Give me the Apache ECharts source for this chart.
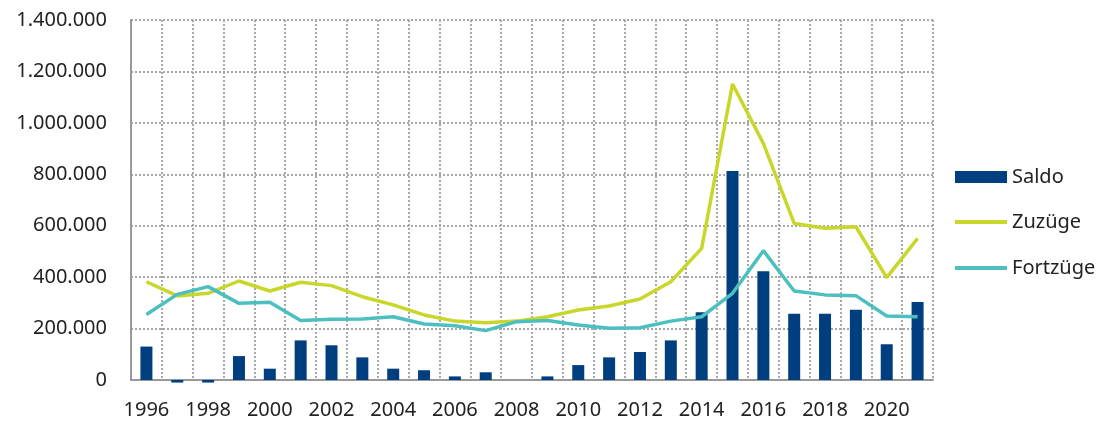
<!DOCTYPE html>
<html>
<head>
<meta charset="utf-8">
<script src="https://cdn.jsdelivr.net/npm/echarts@6/dist/echarts.min.js"></script>
<style>
html,body{margin:0;padding:0;background:#fff;}
#c{width:1105px;height:423px;}
</style>
</head>
<body>
<div id="c"></div>
<script>
const years = ['1996','1997','1998','1999','2000','2001','2002','2003','2004','2005','2006','2007','2008','2009','2010','2011','2012','2013','2014','2015','2016','2017','2018','2019','2020','2021'];
const saldo = [130000,-10000,-10000,93000,44000,154000,135000,88000,44000,38000,14000,30000,0,14000,58000,88000,109000,154000,263000,813000,423000,258000,258000,273000,139000,303000];
const zuzuege = [382000,327000,337000,385000,346000,380000,367000,324000,292000,253000,229000,223000,229000,246000,272000,288000,315000,382000,512000,1151000,920000,609000,590000,596000,398000,551000];
const fortzuege = [255000,333000,363000,298000,302000,231000,236000,237000,246000,218000,211000,192000,227000,231000,214000,201000,203000,229000,246000,337000,503000,346000,331000,328000,249000,246000];
const yTicks = [0,200000,400000,600000,800000,1000000,1200000,1400000];

const font = '"Noto Sans", sans-serif';
const chart = echarts.init(document.getElementById('c'), null, {renderer:'canvas'});
const gridDots = {color:'#a8a8a8', width:2, type:[2,2]};
const legendText = {fontFamily:font, fontSize:20, color:'#222'};
chart.setOption({
  animation:false,
  textStyle:{fontFamily:font},
  grid:{left:131, right:172, top:20, bottom:43, containLabel:false},
  legend:[
    {orient:'vertical', left:955, top:167, padding:0, itemWidth:52, itemHeight:12, itemGap:26, icon:'rect',
     textStyle:legendText, data:['Saldo']},
    {orient:'vertical', left:955, top:212, padding:0, itemWidth:52, itemHeight:4, itemGap:26, icon:'rect',
     textStyle:legendText, data:['Zuzüge','Fortzüge']}
  ],
  xAxis:{
    type:'category', data:years, boundaryGap:true,
    axisLine:{show:true, lineStyle:{color:'#999', width:2}},
    axisTick:{show:false},
    axisLabel:{interval:1, margin:20, fontFamily:font, fontSize:20, color:'#222'},
    splitLine:{show:true, interval:0, lineStyle:gridDots}
  },
  yAxis:{
    type:'value', min:yTicks[0], max:yTicks[yTicks.length-1], interval:200000,
    axisLine:{show:true, lineStyle:{color:'#999', width:2}},
    axisTick:{show:false},
    axisLabel:{margin:24, fontFamily:font, fontSize:20, color:'#222',
      formatter:function(v){return v.toString().replace(/\B(?=(\d{3})+(?!\d))/g,'.');}},
    splitLine:{show:true, lineStyle:gridDots}
  },
  series:[
    {name:'Saldo', type:'bar', data:saldo, barWidth:12, clip:false, itemStyle:{color:'#003f7f'}},
    {name:'Zuzüge', type:'line', data:zuzuege, symbol:'none', lineStyle:{color:'#c9d62a', width:3.5}, itemStyle:{color:'#c9d62a'}},
    {name:'Fortzüge', type:'line', data:fortzuege, symbol:'none', lineStyle:{color:'#4dbfc0', width:3.5}, itemStyle:{color:'#4dbfc0'}}
  ]
});
</script>
</body>
</html>
